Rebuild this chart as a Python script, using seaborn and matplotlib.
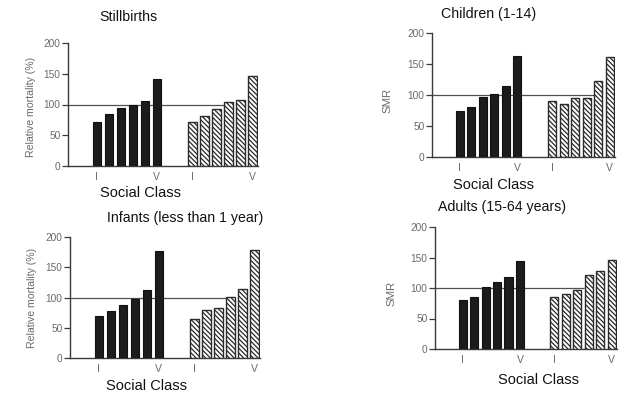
import matplotlib
matplotlib.use("Agg")
import matplotlib.pyplot as plt
import numpy as np
import pandas as pd
import seaborn as sns

sns.set_theme(style="white")
plt.rcParams['font.family'] = ['Liberation Sans', 'DejaVu Sans']
plt.rcParams['hatch.linewidth'] = 0.9
plt.rcParams['hatch.color'] = '#2a2a2a'

# Social classes I..V (six classes, I, II, IIIN, IIIM, IV, V)
classes = ["I", "II", "IIIN", "IIIM", "IV", "V"]

# Solid bars (first period) and hatched bars (second period)
stillbirths_solid = [72, 84, 95, 100, 106, 142]
stillbirths_hatch = [71, 81, 93, 104, 108, 146]

children_solid = [74, 80, 96, 101, 115, 163]
children_hatch = [90, 85, 95, 95, 123, 161]

infants_solid = [70, 78, 87, 98, 113, 177]
infants_hatch = [64, 80, 82, 101, 114, 179]

adults_solid = [81, 85, 102, 110, 118, 144]
adults_hatch = [85, 90, 96, 122, 128, 146]

titles = ["Stillbirths", "Children (1-14)",
          "Infants (less than 1 year)", "Adults (15-64 years)"]
ylabels = ["Relative mortality (%)", "SMR", "Relative mortality (%)", "SMR"]
xtick_labels = ["I", "V", "I", "V"]
yticks = [0, 50, 100, 150, 200]

W, H = 634, 394
fig = plt.figure(figsize=(W / 100, H / 100), dpi=100)
fig.patch.set_facecolor("white")

# panel boxes in pixels: left, top (y=200), right, bottom (y=0)
boxes = [(68, 43, 258, 166), (432, 33, 615, 157),
         (70, 237, 260, 358), (435, 227, 617, 349)]
title_pos = [(128, 17), (489, 14), (185, 218), (502, 207)]
xlabel_pos = [(141, 193), (493, 185), (147, 386), (539, 380)]
ylabel_off = [(32, 0.48), (40, 0.46), (33, 0.5), (39, 0.455)]
ref_end = [10.6, 11.6, 10.6, 10.6]

panels = [(stillbirths_solid, stillbirths_hatch),
          (children_solid, children_hatch),
          (infants_solid, infants_hatch),
          (adults_solid, adults_hatch)]

GAP = 8  # offset of the second group of bars
axis_col = "#3a3a3a"
tick_col = "#6a6a6a"

for i, (solid, hatch) in enumerate(panels):
    l, t, r, b = boxes[i]
    ax = fig.add_axes([l / W, (H - b) / H, (r - l) / W, (b - t) / H])
    n = len(classes)
    df_a = pd.DataFrame({"pos": np.arange(n), "value": solid, "cls": classes})
    df_b = pd.DataFrame({"pos": np.arange(n) + GAP, "value": hatch, "cls": classes})

    sns.barplot(data=df_a, x="pos", y="value", native_scale=True, width=0.7,
                color="#1c1c1c", edgecolor="#111111", linewidth=0.8,
                errorbar=None, ax=ax, zorder=3)
    k = len(ax.patches)
    sns.barplot(data=df_b, x="pos", y="value", native_scale=True, width=0.7,
                color="white", errorbar=None, ax=ax, zorder=3)
    for p in ax.patches[k:]:
        p.set_facecolor("white")
        p.set_edgecolor("#2a2a2a")
        p.set_linewidth(1.0)
        p.set_hatch("\\\\\\\\\\\\\\")

    # reference line at 100
    ax.hlines(100, -2.4, ref_end[i], color="#505050", linewidth=0.9, zorder=2)

    ax.set_xlim(-2.4, 13.45)
    ax.set_ylim(0, 200)
    ax.set_facecolor("none")
    for s in ["top", "right"]:
        ax.spines[s].set_visible(False)
    for s in ["left", "bottom"]:
        ax.spines[s].set_color(axis_col)
        ax.spines[s].set_linewidth(1.0)

    ax.set_yticks(yticks)
    ax.set_yticklabels([str(v) for v in yticks], fontsize=7.3, color=tick_col)
    ax.tick_params(axis="y", direction="out", length=4.5, width=0.9,
                   color=axis_col, pad=1, left=True)
    ax.set_xticks([0, n - 1, GAP, GAP + n - 1])
    ax.set_xticklabels(xtick_labels, fontsize=7.5, color=tick_col)
    ax.tick_params(axis="x", length=0, pad=4)

    ax.set_xlabel("")
    ax.set_ylabel(ylabels[i], fontsize=7.6 if i in (0, 2) else 8.2,
                  color=tick_col)
    dx, fy = ylabel_off[i]
    ax.yaxis.set_label_coords(-dx / (r - l), fy)

    tx, ty = title_pos[i]
    fig.text(tx / W, 1 - ty / H, titles[i], ha="center", va="center",
             fontsize=10.2, color="#111111")
    sx, sy = xlabel_pos[i]
    fig.text(sx / W, 1 - sy / H, "Social Class", ha="center", va="center",
             fontsize=10.5, color="#111111")

fig.savefig("out.png", dpi=100, facecolor="white")
